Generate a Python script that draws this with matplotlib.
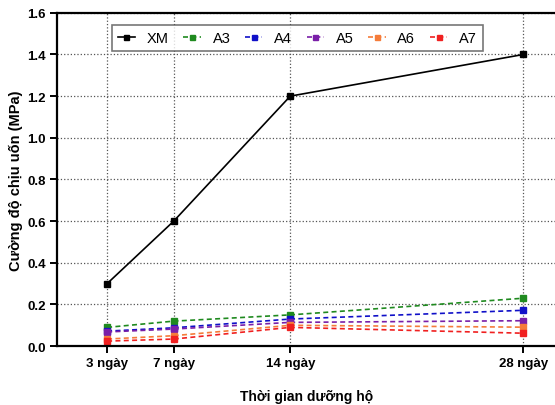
import matplotlib
matplotlib.use('Agg')
import matplotlib.pyplot as plt

plt.rcParams['font.family'] = ['Liberation Sans', 'DejaVu Sans']

days = [3, 7, 14, 28]
day_labels = ['3 ngày', '7 ngày', '14 ngày', '28 ngày']
xm = [0.30, 0.60, 1.20, 1.40]
a3 = [0.090, 0.120, 0.150, 0.230]
a4 = [0.072, 0.088, 0.130, 0.172]
a5 = [0.068, 0.082, 0.114, 0.122]
a6 = [0.034, 0.050, 0.100, 0.091]
a7 = [0.024, 0.034, 0.090, 0.062]

series = [('XM', xm, 'black', '-'),
          ('A3', a3, '#1f8a1f', '--'),
          ('A4', a4, '#1010c8', '--'),
          ('A5', a5, '#7a1fa8', '--'),
          ('A6', a6, '#f57c3a', '--'),
          ('A7', a7, '#f02020', '--')]

fig = plt.figure(figsize=(5.55, 4.06), dpi=100)
ax = fig.add_axes([0.103, 0.145, 0.897, 0.821])

for name, vals, col, ls in series:
	ax.plot(days, vals, ls, color=col, marker='s', markersize=4, linewidth=1.2,
		dashes=(3, 2) if ls == '--' else (None, None), label=name)

ax.set_xlim(0, 29.9)
ax.set_ylim(0, 1.6)
ax.set_xticks(days)
ax.set_xticklabels(day_labels, fontweight='bold', fontsize=9.5)
ax.set_yticks([0.0, 0.2, 0.4, 0.6, 0.8, 1.0, 1.2, 1.4, 1.6])
ax.set_yticklabels(['%.1f' % v for v in ax.get_yticks()], fontweight='bold', fontsize=9.5)
ax.grid(True, linestyle=':', color='#555555', linewidth=0.9)
ax.set_axisbelow(True)
ax.spines['right'].set_visible(False)
for s in ['left', 'bottom', 'top']:
	ax.spines[s].set_linewidth(1.6)
ax.tick_params(direction='out', length=5, width=1.4, pad=3)

ax.set_xlabel('Thời gian dưỡng hộ', fontweight='bold', fontsize=10, labelpad=14)
ax.set_ylabel('Cường độ chịu uốn (MPa)', fontweight='bold', fontsize=10.5, labelpad=3)

leg = ax.legend(loc='upper left', bbox_to_anchor=(0.095, 0.985), ncol=6, fontsize=10.5,
	frameon=True, fancybox=False, edgecolor='#555555', handlelength=1.2,
	columnspacing=1.0, handletextpad=0.8, borderpad=0.4, markerscale=0.9)
leg.get_frame().set_linewidth(1.2)

fig.savefig('out.png', dpi=100)
